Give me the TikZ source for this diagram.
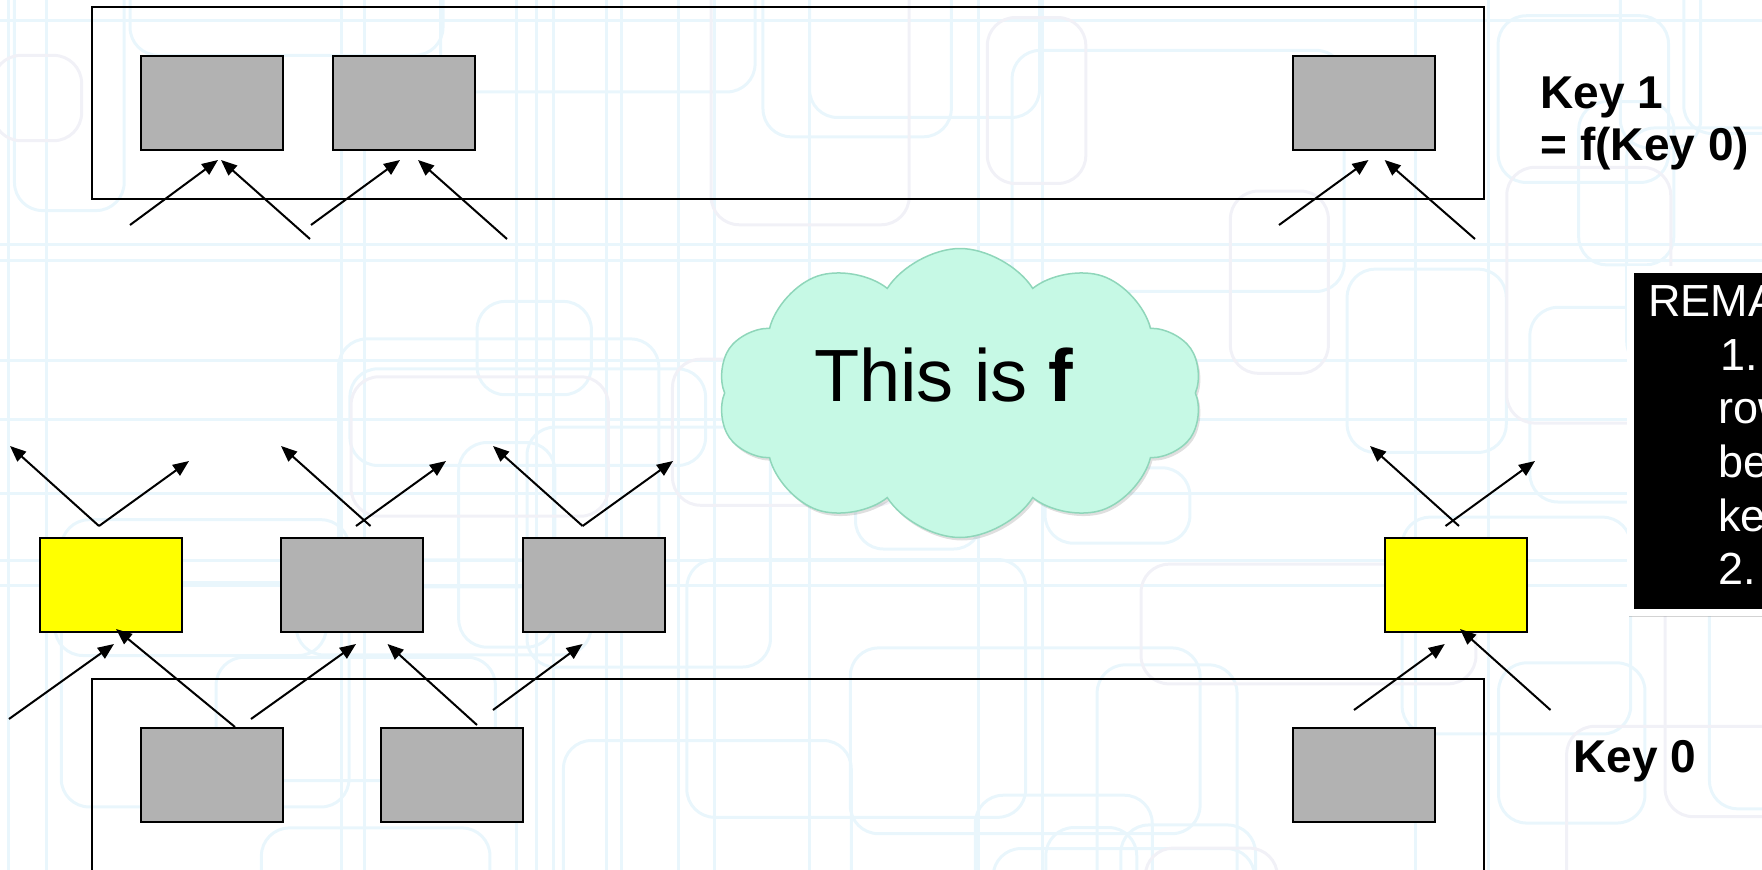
\documentclass[tikz,border=0pt]{standalone}
\usepackage{fontspec}
\setmainfont{Liberation Sans}
\usetikzlibrary{arrows.meta,shapes.symbols,shadows,calc}
\definecolor{boxgray}{RGB}{178,178,178}
\definecolor{hit}{RGB}{255,255,0}
\definecolor{mint}{RGB}{198,249,229}
\definecolor{mintline}{RGB}{143,214,186}
\definecolor{gridblue}{RGB}{233,246,252}
\definecolor{gridgray}{RGB}{241,241,247}

\begin{document}
\begin{tikzpicture}[x=1pt,y=-1pt,
  keybox/.style={draw=black, line width=2pt, minimum width=142pt, minimum height=94pt, inner sep=0pt},
  graybox/.style={keybox, fill=boxgray},
  hitbox/.style={keybox, fill=hit},
  region/.style={draw=black, line width=2pt},
  link/.style={line width=2pt, -{Triangle[length=16pt,width=13pt]}},
  keylabel/.style={font=\fontsize{46}{52}\selectfont\bfseries, align=left, inner sep=0pt},
  bgline/.style={gridblue, line width=3pt, rounded corners=28pt},
  bgline2/.style={gridgray, line width=3pt, rounded corners=28pt},
]
\useasboundingbox (0,0) rectangle (1762,870);
\clip (0,0) rectangle (1762,870);

% faint slide background: overlapping rounded frames and long rules
\pgfmathsetseed{4242}
\foreach \i in {1,...,16}{
  \pgfmathsetmacro\lx{rnd*1762}
  \draw[gridblue, line width=3pt] (\lx,0) -- (\lx,870);
}
\foreach \i in {1,...,8}{
  \pgfmathsetmacro\ly{rnd*870}
  \draw[gridblue, line width=3pt] (0,\ly) -- (1762,\ly);
}
\foreach \i in {1,...,40}{
  \pgfmathsetmacro\bx{rnd*1900-100}
  \pgfmathsetmacro\by{rnd*1000-80}
  \pgfmathsetmacro\bw{80+rnd*280}
  \pgfmathsetmacro\bh{70+rnd*220}
  \draw[bgline] (\bx,\by) rectangle ++(\bw,\bh);
}
\foreach \i in {1,...,12}{
  \pgfmathsetmacro\bx{rnd*1900-100}
  \pgfmathsetmacro\by{rnd*1000-80}
  \pgfmathsetmacro\bw{80+rnd*280}
  \pgfmathsetmacro\bh{70+rnd*220}
  \draw[bgline2] (\bx,\by) rectangle ++(\bw,\bh);
}

% the two key regions
\draw[region] (92,7) rectangle (1484,199);
\draw[region] (92,679) rectangle (1484,900);

% Key 1 row
\node[graybox] (T1) at (212,102.5) {};
\node[graybox] (T2) at (404,102.5) {};
\node[graybox] (T3) at (1364,102.5) {};
% intermediate row
\node[hitbox]  (ML) at (110.7,584.5) {};
\node[graybox] (M1) at (352.3,584.5) {};
\node[graybox] (M2) at (594,584.5) {};
\node[hitbox]  (MR) at (1456,584.5) {};
% Key 0 row
\node[graybox] (B1) at (212,775) {};
\node[graybox] (B2) at (452,775) {};
\node[graybox] (B3) at (1364,775) {};

% labels
\node[keylabel, anchor=north west] (key1) at (1540.5,77) {Key 1\\= f(Key 0)};
\node[keylabel, anchor=north west] (key0) at (1573,740.5) {Key 0};

% the function cloud
\node[cloud, cloud puffs=10, cloud puff arc=115, cloud ignores aspect,
      minimum width=485pt, minimum height=289pt, fill=mint, draw=mintline,
      line width=1.5pt, drop shadow={opacity=0.25, shadow xshift=2pt, shadow yshift=-3pt}]
      (fcloud) at (960,393) {};
\node[font=\fontsize{74}{80}\selectfont, inner sep=0pt, anchor=base west]
      (ftext) at (814,401.7) {This is \textbf{f}};

% remarks panel
\node[fill=black, draw=white, line width=7pt, anchor=north west,
      minimum width=320pt, minimum height=343.5pt, inner sep=0pt,
      drop shadow={opacity=0.35, shadow xshift=-1pt, shadow yshift=-4pt}]
      (remarks) at (1626.5,265.5) {};
\node[text=white, font=\fontsize{45}{53.6}\selectfont, align=left, inner sep=0pt,
      anchor=north west] (remtext) at (1648,285)
      {REMARKS\\\hspace*{72pt}1.\\\hspace*{70pt}row\\\hspace*{70pt}be\\\hspace*{70pt}key\\\hspace*{70pt}2.};

% arrow end points into the Key 1 row
\coordinate (a1) at ($(T1.south)+(-82,74.5)$);   \coordinate (h1) at ($(T1.south)+(6,9.5)$);
\coordinate (a2) at ($(T1.south)+(98,88.5)$);    \coordinate (h2) at ($(T1.south)+(9,9.5)$);
\coordinate (a3) at ($(T2.south)+(-93,74.5)$);   \coordinate (h3) at ($(T2.south)+(-4,9.5)$);
\coordinate (a4) at ($(T2.south)+(103,88.5)$);   \coordinate (h4) at ($(T2.south)+(14,9.5)$);
\coordinate (a5) at ($(T3.south)+(-85,74.5)$);   \coordinate (h5) at ($(T3.south)+(4.5,9.5)$);
\coordinate (a6) at ($(T3.south)+(111,88.5)$);   \coordinate (h6) at ($(T3.south)+(20.6,9.5)$);
\foreach \k in {1,...,6} \draw[link] (a\k) -- (h\k);

% arrows leaving the intermediate row
\coordinate (o1) at ($(ML.north)+(-11.7,-10.5)$);
\coordinate (o2) at ($(M1.north)+(18.2,-10.5)$);
\coordinate (o3) at ($(M1.north)+(3.7,-10.5)$);
\coordinate (o4) at ($(M2.north)+(-11.4,-10.5)$);
\coordinate (o5) at ($(MR.north)+(3,-10.5)$);
\coordinate (o6) at ($(MR.north)+(-10.5,-10.5)$);
\coordinate (u1) at ($(ML.north)+(-100.7,-90.5)$);
\coordinate (u2) at ($(ML.north)+(78.3,-75.5)$);
\coordinate (u3) at ($(M1.north)+(-71.3,-90.5)$);
\coordinate (u4) at ($(M1.north)+(93.7,-75.5)$);
\coordinate (u5) at ($(M2.north)+(-101,-90.5)$);
\coordinate (u6) at ($(M2.north)+(79,-75.5)$);
\coordinate (u7) at ($(MR.north)+(-86,-90.5)$);
\coordinate (u8) at ($(MR.north)+(79,-75.5)$);
\draw[link] (o1) -- (u1);
\draw[link] (o1) -- (u2);
\draw[link] (o2) -- (u3);
\draw[link] (o3) -- (u4);
\draw[link] (o4) -- (u5);
\draw[link] (o4) -- (u6);
\draw[link] (o5) -- (u7);
\draw[link] (o6) -- (u8);

% arrows entering the intermediate row
\coordinate (i1) at ($(ML.south)+(-101.7,86.5)$);  \coordinate (j1) at ($(ML.south)+(3.3,11.5)$);
\coordinate (i2) at ($(B1.north)+(23,0)$);         \coordinate (j2) at ($(ML.south)+(5.3,-3.5)$);
\coordinate (i3) at ($(M1.south)+(-101.3,86.5)$);  \coordinate (j3) at ($(M1.south)+(3.7,11.5)$);
\coordinate (i4) at ($(B2.north)+(25,-2)$);        \coordinate (j4) at ($(M1.south)+(35.2,11.5)$);
\coordinate (i5) at ($(M2.south)+(-101,77.5)$);    \coordinate (j5) at ($(M2.south)+(-11.4,11.5)$);
\coordinate (i6) at ($(MR.south)+(-102,77.5)$);    \coordinate (j6) at ($(MR.south)+(-11.2,11.5)$);
\coordinate (i7) at ($(MR.south)+(94.5,77.5)$);    \coordinate (j7) at ($(MR.south)+(4,-3.5)$);
\foreach \k in {1,...,7} \draw[link] (i\k) -- (j\k);

\end{tikzpicture}
\end{document}
